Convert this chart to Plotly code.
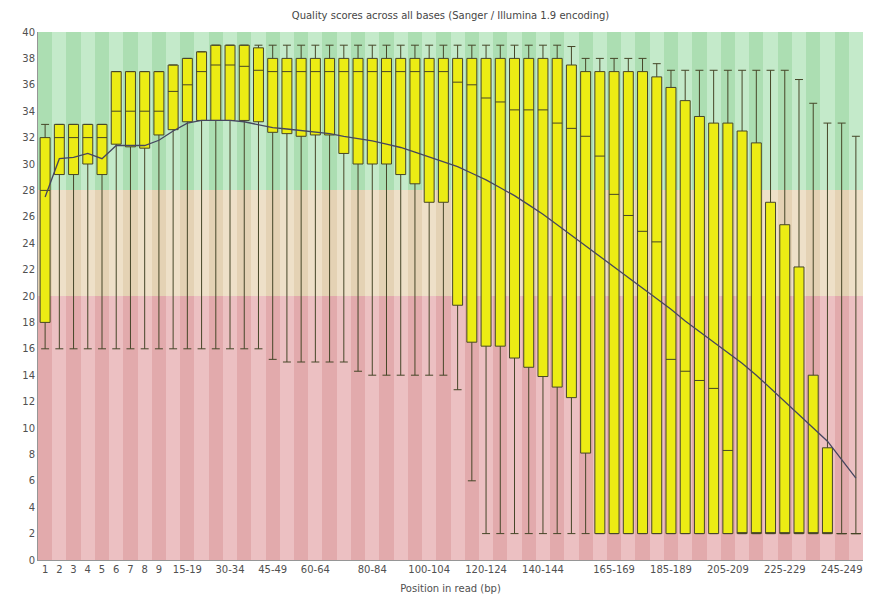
import plotly.graph_objects as go

# Categories (position in read)
categories = [str(i) for i in range(1, 10)] + [f"{s}-{s+4}" for s in range(10, 250, 5)] + ["250-251"]

# Per-position statistics (Phred quality)
lower_whisker = [16, 16, 16, 16, 16, 16, 16, 16, 16, 16,
                 16, 16, 16, 16, 16, 16, 15.2, 15.0, 15.0, 15.0,
                 15.0, 15.0, 14.3, 14.0, 14.0, 14.0, 14.0, 14.0, 14.0, 12.9,
                 6.0, 2, 2, 2, 2, 2, 2, 2, 2, 2,
                 2, 2, 2, 2, 2, 2, 2, 2, 2, 2,
                 2, 2, 2, 2, 2, 2, 2, 2]
q1_vals = [18, 29.2, 29.2, 30, 29.2, 31.5, 31.3, 31.2, 32.2, 32.6,
           33.2, 33.3, 33.3, 33.3, 33.3, 33.2, 32.4, 32.3, 32.1, 32.2,
           32.2, 30.8, 30.0, 30.0, 30.0, 29.2, 28.5, 27.1, 27.1, 19.3,
           16.5, 16.2, 16.2, 15.3, 14.6, 13.9, 13.1, 12.3, 8.1, 2,
           2, 2, 2, 2, 2, 2, 2, 2, 2, 2,
           2, 2, 2, 2, 2, 2, 2, 2]
median_vals = [28, 32, 32, 32, 32, 34, 34, 34, 34, 35.5,
               36, 37, 37.5, 37.5, 37.4, 37.1, 37, 37, 37, 37,
               37, 37, 37, 37, 37, 37, 37, 37, 37, 36.2,
               36.0, 35.0, 34.7, 34.1, 34.1, 34.1, 33.1, 32.7, 32.1, 30.6,
               27.7, 26.1, 24.9, 24.1, 15.2, 14.3, 13.6, 13.0, 8.3, 2,
               2, 2, 2, 2, 2, 2, 2, 2]
q3_vals = [32, 33, 33, 33, 33, 37, 37, 37, 37, 37.5,
           38, 38.5, 39, 39, 39, 38.8, 38, 38, 38, 38,
           38, 38, 38, 38, 38, 38, 38, 38, 38, 38,
           38, 38, 38, 38, 38, 38, 38, 37.5, 37, 37,
           37, 37, 37, 36.6, 35.8, 34.8, 33.6, 33.1, 33.1, 32.5,
           31.6, 27.1, 25.4, 22.2, 14.0, 8.5, 2, 2]
upper_whisker = [33, 33, 33, 33, 33, 37, 37, 37, 37, 37.5,
                 38, 38.5, 39, 39, 39, 39, 39, 39, 39, 39,
                 39, 39, 39, 39, 39, 39, 39, 39, 39, 39,
                 39, 39, 39, 39, 39, 39, 39, 38.9, 38, 38,
                 38, 38, 38, 37.6, 37.1, 37.1, 37.1, 37.1, 37.1, 37.1,
                 37.1, 37.1, 37.1, 36.4, 34.6, 33.1, 33.1, 32.1]
mean_vals = [27.5, 30.4, 30.5, 30.8, 30.4, 31.4, 31.4, 31.4, 31.8, 32.5,
             33.1, 33.3, 33.3, 33.3, 33.2, 33.0, 32.75, 32.65, 32.55, 32.45,
             32.3, 32.1, 31.95, 31.75, 31.5, 31.25, 30.9, 30.55, 30.2, 29.8,
             29.3, 28.8, 28.2, 27.6, 26.9, 26.2, 25.4, 24.6, 23.8, 23.0,
             22.2, 21.4, 20.6, 19.8, 19.0, 18.1, 17.3, 16.5, 15.7, 14.9,
             14.0, 13.0, 12.0, 11.0, 10.0, 9.0, 7.6, 6.2]

# Shown tick labels
shown_ticks = ["1", "2", "3", "4", "5", "6", "7", "8", "9", "15-19", "30-34", "45-49",
               "60-64", "80-84", "100-104", "120-124", "140-144", "165-169",
               "185-189", "205-209", "225-229", "245-249"]

# Quality bands: (base, top, colour A, colour B)
band_bases = [0, 20, 28]
band_tops = [20, 28, 40]
band_colors_a = ["rgb(226,170,172)", "rgb(228,210,180)", "rgb(172,222,178)"]
band_colors_b = ["rgb(236,192,194)", "rgb(238,224,200)", "rgb(196,234,202)"]

n = len(categories)
fig = go.Figure()

for base, top, ca, cb in zip(band_bases, band_tops, band_colors_a, band_colors_b):
    fig.add_trace(go.Bar(
        x=categories, y=[top - base] * n, base=[base] * n, width=1,
        marker=dict(color=[ca if i % 2 == 0 else cb for i in range(n)], line=dict(width=0)),
        hoverinfo="skip", showlegend=False,
    ))

fig.add_trace(go.Box(
    x=categories, q1=q1_vals, median=median_vals, q3=q3_vals,
    lowerfence=lower_whisker, upperfence=upper_whisker,
    fillcolor="rgb(236,236,20)", line=dict(color="rgb(70,70,40)", width=1),
    width=0.7, whiskerwidth=0.8, showlegend=False,
))

fig.add_trace(go.Scatter(
    x=categories, y=mean_vals, mode="lines",
    line=dict(color="rgb(70,70,95)", width=1.3), showlegend=False,
))

fig.update_layout(
    width=883, height=597,
    margin=dict(l=38, r=20, t=32, b=37),
    paper_bgcolor="white", plot_bgcolor="white",
    barmode="overlay", bargap=0,
    font=dict(family="DejaVu Sans", size=10, color="rgb(80,80,80)"),
    title=dict(text="Quality scores across all bases (Sanger / Illumina 1.9 encoding)",
               x=0.5, xref="paper", y=1 - 15 / 597, yanchor="middle",
               font=dict(size=10, color="rgb(70,70,70)")),
    xaxis=dict(type="category", categoryorder="array", categoryarray=categories,
               range=[-0.5, n - 0.5], tickmode="array", tickvals=shown_ticks, ticktext=shown_ticks,
               tickangle=0, showgrid=False, showline=True, linecolor="rgb(150,150,150)",
               tickfont=dict(size=10), ticks="", automargin=False,
               title=dict(text="Position in read (bp)", font=dict(size=10), standoff=10)),
    yaxis=dict(range=[0, 40], dtick=2, showgrid=False, showline=True,
               linecolor="rgb(150,150,150)", tickfont=dict(size=10), ticks="", zeroline=False),
)

fig.write_html("out.html")
